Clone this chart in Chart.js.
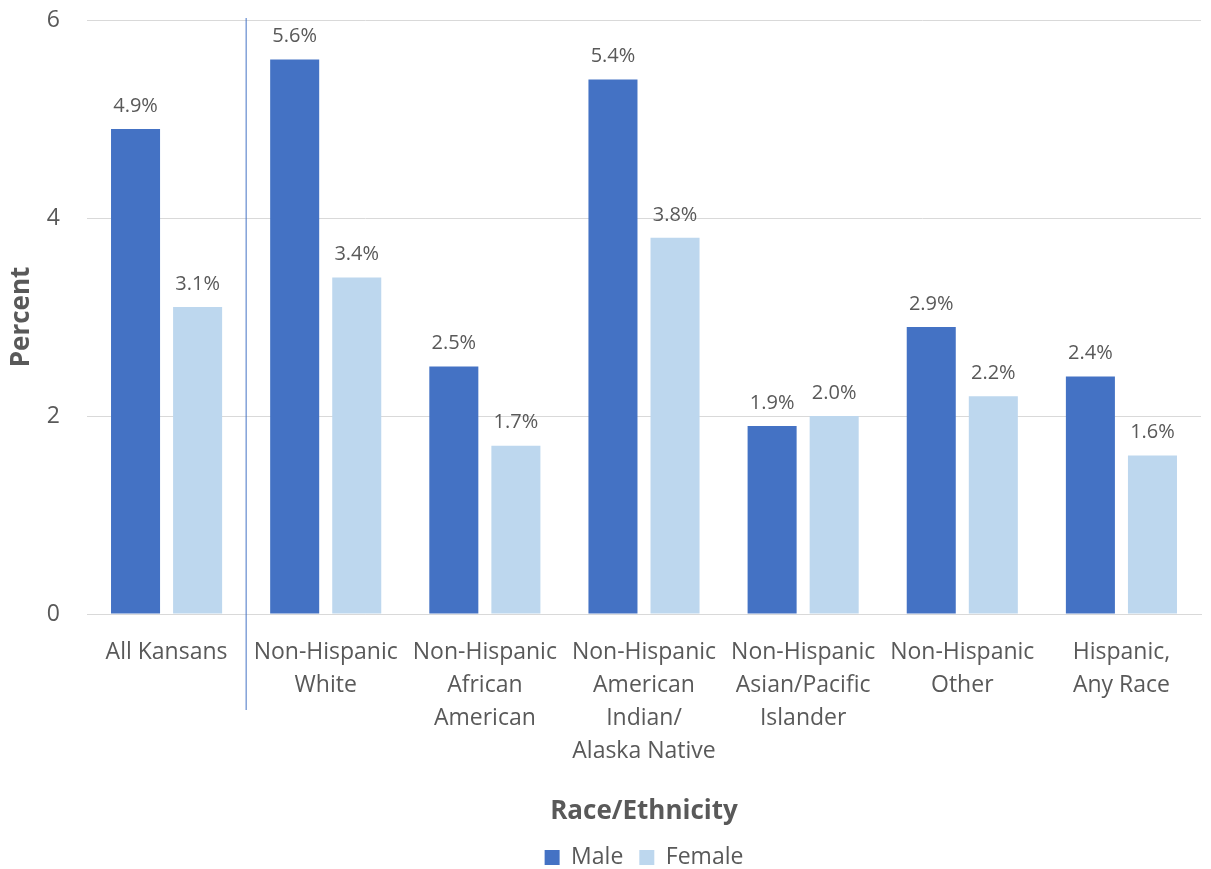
<!DOCTYPE html>
<html>
<head>
<meta charset="utf-8">
<script src="https://cdn.jsdelivr.net/npm/chart.js@4.4.1/dist/chart.umd.min.js"></script>
<style>
  html, body { margin: 0; padding: 0; background: #fff; }
  #wrap { width: 1211px; height: 869px; }
</style>
</head>
<body>
<div id="wrap"><canvas id="chart" width="1211" height="869"></canvas></div>
<script>
const categories = [
    ['All Kansans'],
    ['Non-Hispanic', 'White'],
    ['Non-Hispanic', 'African', 'American'],
    ['Non-Hispanic', 'American', 'Indian/', 'Alaska Native'],
    ['Non-Hispanic', 'Asian/Pacific', 'Islander'],
    ['Non-Hispanic', 'Other'],
    ['Hispanic,', 'Any Race']
];
const maleValues = [4.9, 5.6, 2.5, 5.4, 1.9, 2.9, 2.4];
const femaleValues = [3.1, 3.4, 1.7, 3.8, 2.0, 2.2, 1.6];
const yTicks = [0, 2, 4, 6];

const textColor = '#595959';
const fontFamily = "'Open Sans', 'Noto Sans', sans-serif";

// label persen di atas setiap batang
const valueLabels = {
    id: 'valueLabels',
    afterDatasetsDraw(chart) {
        const ctx = chart.ctx;
        ctx.save();
        ctx.font = '20px ' + fontFamily;
        ctx.fillStyle = textColor;
        ctx.textAlign = 'center';
        ctx.textBaseline = 'bottom';
        chart.data.datasets.forEach((ds, i) => {
            chart.getDatasetMeta(i).data.forEach((bar, j) => {
                ctx.fillText(ds.data[j].toFixed(1) + '%', bar.x, bar.y - 13);
            });
        });
        ctx.restore();
    }
};

// garis pemisah antara "All Kansans" dan kelompok lainnya
const separator = {
    id: 'separator',
    afterDatasetsDraw(chart) {
        const x = chart.scales.x.getPixelForValue(0.5);
        const ctx = chart.ctx;
        ctx.save();
        ctx.strokeStyle = '#4472C4';
        ctx.lineWidth = 1;
        ctx.beginPath();
        ctx.moveTo(x, 18);
        ctx.lineTo(x, 710);
        ctx.stroke();
        ctx.restore();
    }
};

// legenda di tengah area plot, bukan di tengah kanvas
const legendUnderPlot = {
    id: 'legendUnderPlot',
    afterLayout(chart) {
        if (!chart.legend) return;
        chart.legend.left = chart.chartArea.left;
        chart.legend.right = chart.chartArea.right;
        chart.legend.width = chart.chartArea.right - chart.chartArea.left;
    }
};

new Chart(document.getElementById('chart'), {
    type: 'bar',
    data: {
        labels: categories,
        datasets: [{
            label: 'Male',
            data: maleValues,
            backgroundColor: '#4472C4'
        }, {
            label: 'Female',
            data: femaleValues,
            backgroundColor: '#BDD7EE'
        }]
    },
    options: {
        responsive: false,
        animation: false,
        categoryPercentage: 0.78,
        barPercentage: 0.79,
        layout: { padding: { top: 0, right: 10, left: 0, bottom: -10 } },
        plugins: {
            legend: {
                position: 'bottom',
                labels: {
                    color: textColor,
                    font: { size: 23, family: fontFamily },
                    boxWidth: 15,
                    boxHeight: 15,
                    padding: 16
                }
            },
            tooltip: { enabled: false }
        },
        scales: {
            x: {
                afterFit(axis) { axis.height = 216; },
                grid: { display: false },
                border: { color: '#D9D9D9' },
                ticks: {
                    color: textColor,
                    font: { size: 23, family: fontFamily, lineHeight: 1.43 },
                    maxRotation: 0,
                    autoSkip: false,
                    padding: 14
                },
                title: {
                    display: true,
                    text: 'Race/Ethnicity',
                    color: textColor,
                    font: { size: 26, weight: 'bold', family: fontFamily },
                    padding: { top: 24, bottom: 3 }
                }
            },
            y: {
                min: 0,
                max: 6,
                afterFit(axis) {
                    axis.width = 87;
                    axis.paddingTop = 20;
                    axis.paddingBottom = 14;
                },
                afterBuildTicks(axis) {
                    axis.ticks = yTicks.map(v => ({ value: v }));
                },
                grid: { color: '#D9D9D9', drawTicks: false },
                border: { display: false },
                ticks: {
                    color: textColor,
                    font: { size: 23, family: fontFamily },
                    padding: 27
                },
                title: {
                    display: true,
                    text: 'Percent',
                    color: textColor,
                    font: { size: 26, weight: 'bold', family: fontFamily },
                    padding: { top: 6, bottom: 0 }
                }
            }
        }
    },
    plugins: [valueLabels, separator, legendUnderPlot]
});
</script>
</body>
</html>
